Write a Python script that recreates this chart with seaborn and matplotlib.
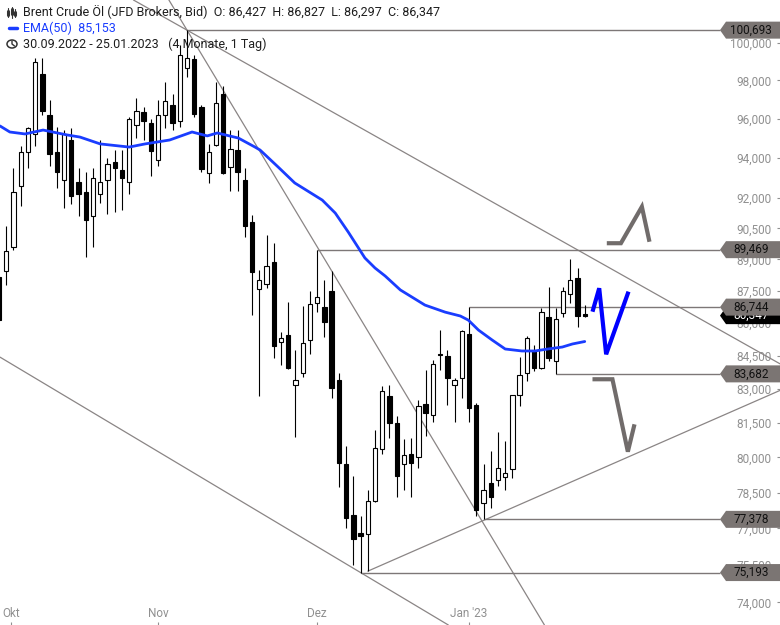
import numpy as np
import pandas as pd
import matplotlib
matplotlib.use("Agg")
import matplotlib.pyplot as plt
from matplotlib.patches import Polygon, Circle
from matplotlib.lines import Line2D
import seaborn as sns

# =========================
# Daily candles 30.09.2022 - 25.01.2023
# =========================
opens = [88.16, 88.45, 89.6, 92.6, 94.3, 95.2, 98.35, 96.2, 94.3, 92.9,
         94.9, 92.8, 92.3, 91.1, 92.2, 92.9, 93.8, 93.4, 92.8, 95.7,
         96.35, 95.8, 93.9, 96.2, 96.7, 95.9, 98.65, 99.15, 96.6, 93.25,
         94.65, 97.3, 93.55, 94.4, 92.9, 90.8, 87.6, 87.85, 88.9, 85.15,
         85.45, 83.2, 83.7, 85.2, 86.95, 86.75, 87.5, 83.4, 79.7, 77.55,
         76.8, 76.75, 78.15, 80.35, 82.7, 81.5, 79.7, 80.15, 80.0, 82.35,
         81.85, 84.6, 84.5, 83.2, 83.5, 85.5, 82.3, 78.05, 78.9, 79.05,
         79.15, 79.5, 82.75, 83.7, 84.7, 83.95, 86.3, 84.25, 86.45, 87.35,
         88.1, 86.427]
highs = [89.4, 90.6, 93.5, 94.6, 95.6, 99.2, 99.2, 97.0, 95.6, 95.4,
         95.5, 93.5, 93.3, 93.5, 94.9, 94.0, 94.4, 94.4, 96.1, 97.1,
         96.6, 96.0, 97.0, 97.9, 97.3, 99.9, 100.693, 99.35, 96.7, 94.7,
         97.9, 97.7, 95.4, 95.4, 93.5, 91.15, 88.5, 90.2, 89.8, 85.6,
         87.0, 84.75, 86.8, 87.5, 89.469, 88.0, 88.45, 83.7, 80.5, 79.2,
         77.5, 78.6, 81.2, 83.15, 83.2, 81.8, 80.8, 80.85, 82.5, 83.85,
         84.3, 85.7, 84.75, 83.5, 85.7, 86.744, 82.4, 79.7, 80.3, 81.1,
         80.7, 82.75, 84.45, 85.4, 85.0, 86.7, 87.7, 86.7, 87.7, 89.0,
         88.6, 86.827]
lows = [85.8, 87.8, 89.45, 91.6, 93.5, 94.6, 96.2, 93.6, 92.5, 91.5,
        91.7, 91.1, 89.1, 89.6, 91.75, 91.2, 91.3, 91.4, 92.2, 95.0,
        94.9, 93.1, 93.6, 95.5, 95.4, 95.6, 98.2, 96.1, 93.3, 92.75,
        94.6, 93.2, 92.35, 92.35, 90.1, 86.4, 82.7, 87.65, 84.4, 84.1,
        83.9, 80.9, 83.55, 84.6, 86.5, 85.35, 82.6, 78.75, 77.0, 75.5,
        75.193, 75.25, 78.1, 80.15, 80.85, 78.3, 78.6, 78.3, 79.55, 80.95,
        81.55, 83.85, 82.3, 81.55, 82.6, 81.55, 77.5, 77.378, 77.85, 78.8,
        78.6, 79.1, 82.25, 83.35, 83.8, 83.9, 84.25, 83.682, 86.3, 86.95,
        85.83, 86.297]
closes = [86.14, 89.4, 92.3, 94.3, 95.5, 99.0, 96.4, 94.2, 93.3, 95.2,
          92.1, 92.2, 90.9, 93.0, 92.8, 93.7, 93.5, 93.0, 96.0, 96.4,
          95.9, 94.35, 96.2, 96.9, 95.8, 99.35, 99.2, 96.25, 93.45, 94.3,
          96.8, 93.25, 94.45, 93.3, 90.6, 88.4, 88.0, 88.7, 84.95, 85.3,
          83.95, 83.4, 85.1, 86.9, 87.2, 86.05, 83.05, 79.75, 77.45, 76.55,
          76.7, 78.15, 80.4, 82.9, 81.5, 79.2, 80.1, 79.75, 82.25, 81.95,
          84.15, 84.55, 83.5, 83.4, 85.65, 82.15, 77.75, 78.6, 78.3, 79.55,
          79.35, 82.75, 83.65, 85.3, 83.95, 86.5, 84.4, 86.2, 87.5, 88.0,
          86.35, 86.347]

# EMA(50) (candle index, value)
ema_idx = [0.14, 1.5, 3.6, 6.1, 9.4, 11.2, 14.0, 18.0, 20.2, 23.6, 26.7, 28.8,
           30.2, 31.3, 33.1, 35.4, 36.1, 38.6, 40.9, 44.7, 46.5, 48.3, 50.6,
           52.0, 53.4, 55.5, 58.9, 61.7, 63.8, 64.9, 66.3, 68.2, 70.0, 72.3,
           74.1, 75.9, 77.9, 79.3, 81.0]
ema_val = [95.63, 95.32, 95.22, 95.42, 95.17, 95.06, 94.71, 94.55, 94.71, 94.91,
           95.32, 95.12, 95.27, 95.17, 95.01, 94.55, 94.40, 93.54, 92.74, 91.89,
           91.25, 90.32, 89.07, 88.59, 88.21, 87.55, 86.84, 86.51, 86.33, 86.14,
           85.68, 85.22, 84.81, 84.72, 84.72, 84.81, 84.90, 85.04, 85.153]

# horizontal levels: start candle, price
level_start = [26, 44, 65, 77, 67, 50]
level_price = [100.693, 89.469, 86.744, 83.682, 77.378, 75.193]

# trend lines, two points each (index, price)
line_a = [(26, 100.693), (99.7, 85.68)]
line_b = [(26, 100.693), (75.3, 73.16)]
line_c = [(0.14, 84.44), (50, 75.193)]
line_d_x = [51, 108]
line_d_y = [75.25, 82.94]

# hand-drawn scenario arrows
up_x = [84.05, 86.0, 88.9, 89.95]
up_y = [89.78, 89.78, 91.56, 89.85]
mid_x = [82.07, 83.0, 83.96, 87.05]
mid_y = [86.53, 87.63, 84.57, 87.47]
down_x = [82.07, 84.83, 86.96, 87.88]
down_y = [83.44, 83.44, 80.25, 81.44]

ytick_vals = [74, 75.5, 77, 78.5, 80, 81.5, 83, 84.5, 86, 87.5, 89, 90.5,
              92, 94, 96, 98, 100]
month_pos = [1.65, 22, 44, 65]
month_labels = ["Okt", "Nov", "Dez", "Jan '23"]

last_close = 86.347

df = pd.DataFrame({"o": opens, "h": highs, "l": lows, "c": closes})
df["i"] = np.arange(len(df))

# =========================
# Figure
# =========================
sns.set_theme(style="white")
plt.rcParams["font.family"] = ["Roboto", "DejaVu Sans"]

W, H = 780, 625
fig = plt.figure(figsize=(W / 100, H / 100), dpi=100)
ax = fig.add_axes([0, 0, 1, 1])
ax.set_yscale("log")
Y_LO, Y_HI = 73.10, 102.34
ax.set_ylim(Y_LO, Y_HI)
ax.set_xlim(0.14, 108.0)
for s in ax.spines.values():
    s.set_visible(False)

GRAY_LINE = "#8a8585"

# trend lines
ax.axline(line_a[0], line_a[1], color=GRAY_LINE, lw=0.9, zorder=1)
ax.axline(line_b[0], line_b[1], color=GRAY_LINE, lw=0.9, zorder=1)
ax.axline(line_c[0], line_c[1], color=GRAY_LINE, lw=0.9, zorder=1)
ax.plot(line_d_x, line_d_y, color=GRAY_LINE, lw=0.9, zorder=1)
ax.hlines(level_price, level_start, 99.7, color="#7d7777", lw=1.0, zorder=1)

# candles
ax.vlines(df["i"], df["l"], df["h"], color="black", lw=0.8, zorder=2)
up = df[df["c"] >= df["o"]]
dn = df[df["c"] < df["o"]]
ax.bar(up["i"], (up["c"] - up["o"]).clip(lower=0.02), bottom=up["o"], width=0.6,
       color="white", edgecolor="black", linewidth=0.8, zorder=3)
ax.bar(dn["i"], (dn["o"] - dn["c"]).clip(lower=0.02), bottom=dn["c"], width=0.6,
       color="black", edgecolor="black", linewidth=0.8, zorder=3)

# EMA(50)
sns.lineplot(x=ema_idx, y=ema_val, ax=ax, color="#1a3dff", lw=2, zorder=4)

# scenario arrows
arrow_kw = dict(lw=3, solid_capstyle="butt", solid_joinstyle="miter", zorder=4)
ax.plot(up_x, up_y, color="#716c6b", **arrow_kw)
ax.plot(mid_x, mid_y, color="#0000ff", **arrow_kw)
ax.plot(down_x, down_y, color="#716c6b", **arrow_kw)

# axes ticks
ax.yaxis.tick_right()
ax.set_yticks(ytick_vals, [f"{v:.3f}".replace(".", ",") for v in ytick_vals])
ax.yaxis.set_minor_locator(matplotlib.ticker.NullLocator())
ax.tick_params(axis="y", direction="in", length=2.5, width=0.8, pad=-6,
               colors="#909090", labelsize=8.5, right=True, left=False)
for t in ax.get_yticklabels():
    t.set_horizontalalignment("right")
ax.set_xticks(month_pos, month_labels)
ax.tick_params(axis="x", direction="in", length=2, width=0.8, pad=-8,
               colors="#909090", labelsize=8.5, bottom=True)
for t in ax.get_xticklabels():
    t.set_verticalalignment("center")
ax.set_xlabel("")
ax.set_ylabel("")


def yfrac(p):
    return (np.log(p) - np.log(Y_LO)) / (np.log(Y_HI) - np.log(Y_LO))


def price_tag(p, text, face, tcolor, z):
    yf = yfrac(p)
    h = 8.5 / H
    verts = [(720 / W, yf), (726 / W, yf + h), (1, yf + h), (1, yf - h), (726 / W, yf - h)]
    ax.add_patch(Polygon(verts, closed=True, transform=ax.transAxes,
                         fc=face, ec="none", zorder=z))
    ax.text(751 / W, yf, text, transform=ax.transAxes, ha="center", va="center",
            fontsize=8.5, color=tcolor, zorder=z + 0.1)


price_tag(last_close, "86,347", "black", "white", 5)
for p in level_price:
    price_tag(p, f"{p:.3f}".replace(".", ","), "#7b7573", "#111111", 6)

# =========================
# Header
# =========================
def fx(x):
    return x / W


def fy(y):
    return 1 - y / H


fig.text(fx(23), fy(12), "Brent Crude Öl (JFD Brokers, Bid)  O: 86,427  H: 86,827  L: 86,297  C: 86,347",
         va="center", ha="left", fontsize=9, color="#1e1e1e")
fig.text(fx(23), fy(28), "EMA(50)  85,153", va="center", ha="left", fontsize=9, color="#1a3dff")
fig.text(fx(23), fy(44), "30.09.2022 - 25.01.2023   (4 Monate, 1 Tag)",
         va="center", ha="left", fontsize=9, color="#1e1e1e")

# header icons
for cx, y0, y1, b0, b1 in [(7.5, 8, 17, 11, 15), (11.5, 7, 18, 9, 14), (15.5, 9, 17, 12, 15)]:
    fig.add_artist(Line2D([fx(cx), fx(cx)], [fy(y0), fy(y1)], color="#333333", lw=0.8))
    fig.add_artist(Line2D([fx(cx), fx(cx)], [fy(b0), fy(b1)], color="#333333", lw=2.2))
fig.add_artist(Line2D([fx(9), fx(17)], [fy(28), fy(28)], color="#1a3dff", lw=2.5))
fig.add_artist(Circle((fx(12), fy(44)), 5 / W, transform=fig.transFigure,
                      fill=False, ec="#333333", lw=1.1))
fig.add_artist(Line2D([fx(12), fx(12), fx(14.5)], [fy(41), fy(44), fy(46)], color="#333333", lw=1))

fig.savefig("out.png", dpi=100)
